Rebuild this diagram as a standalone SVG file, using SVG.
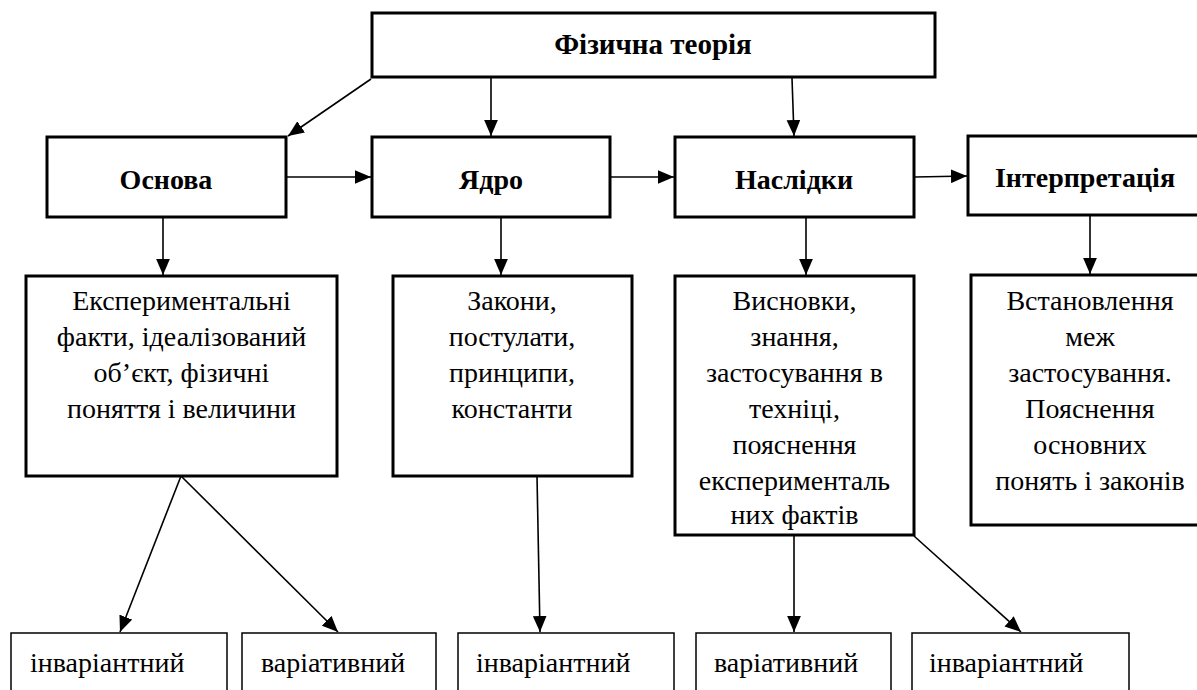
<svg xmlns="http://www.w3.org/2000/svg" width="1197" height="690" viewBox="0 0 1197 690">
<style>
.b{fill:#fff;stroke:#000;stroke-width:3}
.t{fill:#fff;stroke:#000;stroke-width:1.5}
.c{stroke:#000;stroke-width:1.6;fill:none;marker-end:url(#a)}
</style>
<defs>
<marker id="a" markerUnits="userSpaceOnUse" markerWidth="16" markerHeight="14" refX="14" refY="6" orient="auto" viewBox="0 0 14 12">
<path d="M0,0 L14,6 L0,12 Z" fill="#000"/>
</marker>
</defs>
<g id="connectors">
<line class="c" x1="371" y1="79" x2="288" y2="136"/>
<line class="c" x1="491" y1="78" x2="491" y2="136"/>
<line class="c" x1="792" y1="78" x2="794" y2="136"/>
<line class="c" x1="287" y1="177" x2="371" y2="177"/>
<line class="c" x1="610" y1="177" x2="674" y2="177"/>
<line class="c" x1="915" y1="177" x2="967" y2="176"/>
<line class="c" x1="163" y1="218" x2="163" y2="275"/>
<line class="c" x1="501" y1="218" x2="501" y2="275"/>
<line class="c" x1="806" y1="218" x2="806" y2="275"/>
<line class="c" x1="1090" y1="216" x2="1090" y2="274"/>
<line class="c" x1="181" y1="476" x2="120" y2="632"/>
<line class="c" x1="181" y1="476" x2="338" y2="632"/>
<line class="c" x1="537" y1="476" x2="540" y2="632"/>
<line class="c" x1="794" y1="536" x2="794" y2="632"/>
<line class="c" x1="914" y1="536" x2="1021" y2="632"/>
</g>
<g id="n-theory"><rect class="b" x="372" y="13" width="563" height="64"/><text font-family="Liberation Serif" font-weight="bold" font-size="29" text-anchor="middle" x="653" y="54">Фізична теорія</text></g>
<g id="n-osnova"><rect class="b" x="47" y="137" width="239" height="80"/><text font-family="Liberation Serif" font-weight="bold" font-size="28" text-anchor="middle" x="166" y="189">Основа</text></g>
<g id="n-yadro"><rect class="b" x="372" y="137" width="238" height="80"/><text font-family="Liberation Serif" font-weight="bold" font-size="28" text-anchor="middle" x="491" y="189">Ядро</text></g>
<g id="n-naslidky"><rect class="b" x="675" y="137" width="239" height="80"/><text font-family="Liberation Serif" font-weight="bold" font-size="28" text-anchor="middle" x="794" y="189">Наслідки</text></g>
<g id="n-interp"><rect class="b" x="968" y="136" width="240" height="79"/><text font-family="Liberation Serif" font-weight="bold" font-size="28" text-anchor="middle" x="1085" y="187">Інтерпретація</text></g>
<g id="n-exp"><rect class="b" x="26" y="276" width="311" height="200"/>
<text font-family="Liberation Serif" font-size="28" text-anchor="middle"><tspan x="181.5" y="310">Експериментальні</tspan><tspan x="181.5" y="346">факти, ідеалізований</tspan><tspan x="181.5" y="382">об’єкт, фізичні</tspan><tspan x="181.5" y="418">поняття і величини</tspan></text></g>
<g id="n-zakony"><rect class="b" x="393" y="276" width="239" height="200"/>
<text font-family="Liberation Serif" font-size="28" text-anchor="middle"><tspan x="512" y="310">Закони,</tspan><tspan x="512" y="346">постулати,</tspan><tspan x="512" y="382">принципи,</tspan><tspan x="512" y="418">константи</tspan></text></g>
<g id="n-vysnovky"><rect class="b" x="675" y="276" width="239" height="259"/>
<text font-family="Liberation Serif" font-size="28" text-anchor="middle"><tspan x="794.5" y="310">Висновки,</tspan><tspan x="794.5" y="346">знання,</tspan><tspan x="794.5" y="382">застосування в</tspan><tspan x="794.5" y="418">техніці,</tspan><tspan x="794.5" y="454">пояснення</tspan><tspan x="794.5" y="490">експерименталь</tspan><tspan x="794.5" y="524">них фактів</tspan></text></g>
<g id="n-vstan"><rect class="b" x="971" y="275" width="240" height="250"/>
<text font-family="Liberation Serif" font-size="28" text-anchor="middle"><tspan x="1090" y="310">Встановлення</tspan><tspan x="1090" y="346">меж</tspan><tspan x="1090" y="382">застосування.</tspan><tspan x="1090" y="418">Пояснення</tspan><tspan x="1090" y="454">основних</tspan><tspan x="1090" y="490">понять і законів</tspan></text></g>
<g id="n-b1"><rect class="t" x="11" y="633" width="216" height="70"/><text font-family="Liberation Serif" font-size="28" x="30" y="672">інваріантний</text></g>
<g id="n-b2"><rect class="t" x="242" y="633" width="194" height="70"/><text font-family="Liberation Serif" font-size="28" x="261" y="672">варіативний</text></g>
<g id="n-b3"><rect class="t" x="458" y="633" width="216" height="70"/><text font-family="Liberation Serif" font-size="28" x="476" y="672">інваріантний</text></g>
<g id="n-b4"><rect class="t" x="696" y="633" width="195" height="70"/><text font-family="Liberation Serif" font-size="28" x="714" y="672">варіативний</text></g>
<g id="n-b5"><rect class="t" x="912" y="633" width="217" height="70"/><text font-family="Liberation Serif" font-size="28" x="929" y="672">інваріантний</text></g>
</svg>
